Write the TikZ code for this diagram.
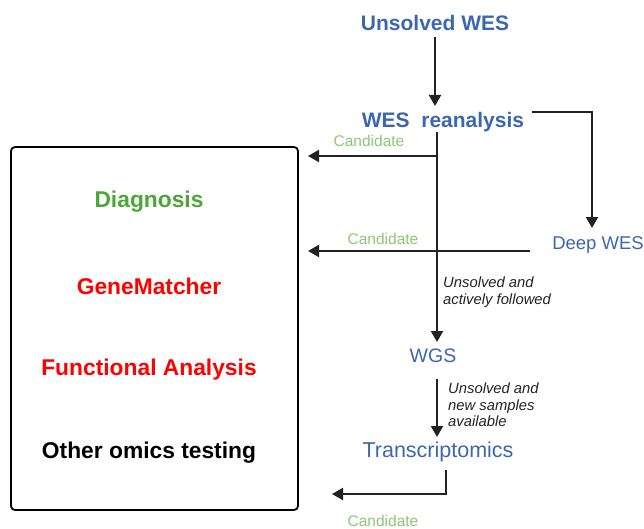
\documentclass[tikz,border=0pt]{standalone}
\usepackage{fontspec}
\setmainfont{Liberation Sans}
\usetikzlibrary{arrows.meta}
\definecolor{stepblue}{RGB}{59,103,177}
\definecolor{diaggreen}{RGB}{76,166,56}
\definecolor{candgreen}{RGB}{140,198,118}
\definecolor{arrowgray}{RGB}{34,34,34}
\tikzset{
  stepbold/.style={text=stepblue, font=\fontsize{21}{24}\selectfont\bfseries, inner sep=0pt},
  stepplain/.style={text=stepblue, inner sep=0pt},
  outcome/.style={font=\fontsize{22.8}{26}\selectfont\bfseries, inner sep=0pt},
  candlabel/.style={text=candgreen, font=\fontsize{15.5}{18}\selectfont, inner sep=0pt},
  note/.style={font=\fontsize{14.8}{16.5}\selectfont\itshape, align=left, anchor=west, inner sep=0pt, text=arrowgray},
  flow/.style={draw=arrowgray, line width=2pt},
  arr/.style={flow, -{Triangle[length=11pt,width=12pt]}},
}
\begin{document}
\begin{tikzpicture}[x=1pt, y=-1pt]
\useasboundingbox (0,0) rectangle (644,529);

% outcomes box
\node[draw=black, line width=1.8pt, rounded corners=4pt, minimum width=287pt, minimum height=363pt, inner sep=0pt] (box) at (154.5,328.5) {};
\node[outcome, text=diaggreen] (diag) at (149,202) {Diagnosis};
\node[outcome, text=red] (gm) at (149,286) {GeneMatcher};
\node[outcome, text=red] (fa) at (149,370) {Functional Analysis};
\node[outcome, text=black] (om) at (149,453) {Other omics testing};

% workflow steps
\node[stepbold] (unsolved) at (435,23) {Unsolved WES};
\node[stepbold] (reanal) at (443,122) {WES\ \ reanalysis};
\node[stepplain, font=\fontsize{18.5}{22}\selectfont] (deep) at (598,245) {Deep WES};
\node[stepplain, font=\fontsize{19.5}{22}\selectfont] (wgs) at (433,356) {WGS};
\node[stepplain, font=\fontsize{21.5}{24}\selectfont] (trans) at (438,452) {Transcriptomics};

% candidate labels
\node[candlabel] (c1) at (369,141) {Candidate};
\node[candlabel] (c2) at (383,239) {Candidate};
\node[candlabel] (c3) at (383,521) {Candidate};

% branch annotations
\node[note] (n1) at (443,292) {Unsolved and\\actively followed};
\node[note] (n2) at (448,405) {Unsolved and\\new samples\\available};

% connector end points
\coordinate (a0) at (435,37);
\coordinate (a1) at (435,106);
\coordinate (r0) at (532,112);
\coordinate (r1) at (592,112);
\coordinate (r2) at (592,228);
\coordinate (v0) at (437,132);
\coordinate (v1) at (437,342);
\coordinate (h1) at (437,156);
\coordinate (h1e) at (308,156);
\coordinate (h2) at (530,251);
\coordinate (h2e) at (308,251);
\coordinate (w0) at (437,379);
\coordinate (w1) at (437,437);
\coordinate (t0) at (446,470);
\coordinate (t1) at (446,494);
\coordinate (t2) at (332,494);

% connectors
\draw[arr] (a0) -- (a1);
\draw[arr] (r0) -- (r1) -- (r2);
\draw[arr] (v0) -- (v1);
\draw[arr] (h1) -- (h1e);
\draw[arr] (h2) -- (h2e);
\draw[arr] (w0) -- (w1);
\draw[arr] (t0) -- (t1) -- (t2);
\end{tikzpicture}
\end{document}
